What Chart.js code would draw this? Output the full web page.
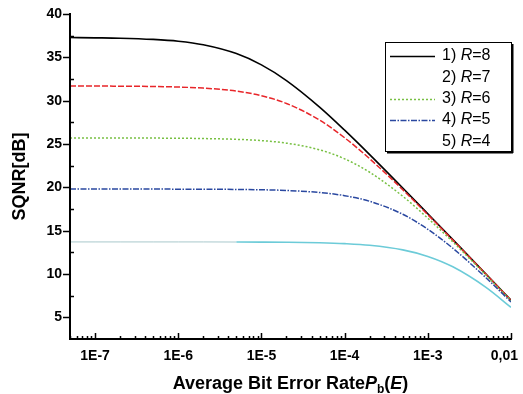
<!DOCTYPE html>
<html lang="en">
<head>
<meta charset="UTF-8">
<title>SQNR vs Average Bit Error Rate</title>
<script src="https://cdn.jsdelivr.net/npm/chart.js@4.4.0/dist/chart.umd.min.js"></script>
<style>
  html, body { margin: 0; padding: 0; background: #fff; }
</style>
</head>
<body>
<canvas id="myChart" width="523" height="394"></canvas>
<script>
    // average bit error rate (x) and SQNR in dB
    const ber    = [5e-8, 1e-7, 2e-7, 5e-7, 1e-6, 2e-6, 5e-6, 1e-5, 2e-5, 5e-5, 1e-4, 2e-4, 5e-4, 1e-3, 2e-3, 5e-3, 1e-2];
    const sqnrR8 = [37.28, 37.25, 37.21, 37.07, 36.86, 36.45, 35.43, 34.13, 32.32, 29.26, 26.60, 23.78, 19.92, 16.95, 13.96, 9.99, 6.99];
    const sqnrR7 = [31.69, 31.69, 31.67, 31.64, 31.57, 31.45, 31.10, 30.57, 29.68, 27.76, 25.72, 23.30, 19.72, 16.84, 13.91, 9.97, 6.97];
    const sqnrR6 = [25.70, 25.70, 25.69, 25.68, 25.67, 25.63, 25.54, 25.39, 25.10, 24.33, 23.29, 21.74, 18.97, 16.44, 13.70, 9.88, 6.93];
    const sqnrR5 = [19.80, 19.80, 19.80, 19.80, 19.79, 19.78, 19.76, 19.72, 19.64, 19.40, 19.04, 18.39, 16.89, 15.16, 12.97, 9.57, 6.77];
    const sqnrR4 = [13.70, 13.70, 13.70, 13.70, 13.70, 13.70, 13.69, 13.68, 13.66, 13.60, 13.50, 13.31, 12.78, 12.03, 10.83, 8.46, 6.15];

    const legendNums  = ['1)', '2)', '3)', '4)', '5)'];
    const legendRates = ['8', '7', '6', '5', '4'];
    const xTickValues = [1e-7, 1e-6, 1e-5, 1e-4, 1e-3, 1e-2];
    const xTickLabels = ['1E-7', '1E-6', '1E-5', '1E-4', '1E-3', '0,01'];
    const yTickValues = [5, 10, 15, 20, 25, 30, 35, 40];

    const FONT = '"Liberation Sans", Arial, sans-serif';

    function pts(ys) {
        return ber.map((x, i) => ({ x: x, y: ys[i] }));
    }

    const styles = [
        { color: '#000000', width: 1.6, dash: [] ,           legend: true },
        { color: '#e8262a', width: 1.5, dash: [6, 2],        legend: false },
        { color: '#78c043', width: 1.5, dash: [2, 2],        legend: true },
        { color: '#2a48a0', width: 1.5, dash: [6, 1.5, 1.5, 1.5], legend: true },
        { color: '#6ccbd8', width: 1.5, dash: [],            legend: false }
    ];

    const frame = {
        id: 'frame',
        afterDraw: (chart) => {
            const ctx = chart.ctx;
            const xs = chart.scales.x, ys = chart.scales.y;
            const left = chart.chartArea.left, bottom = chart.chartArea.bottom;
            const top = ys.getPixelForValue(40), right = chart.chartArea.right;
            ctx.save();
            ctx.strokeStyle = '#000';
            ctx.lineWidth = 2;
            ctx.beginPath();
            ctx.moveTo(left, top - 1);
            ctx.lineTo(left, bottom);
            ctx.lineTo(right + 1, bottom);
            ctx.stroke();

            // y ticks: major outward, minor inward
            ctx.lineWidth = 1.5;
            ctx.beginPath();
            yTickValues.forEach(v => {
                const p = Math.round(ys.getPixelForValue(v)) + 0.5;
                ctx.moveTo(left - 7, p); ctx.lineTo(left, p);
                if (v < 40) {
                    const q = Math.round(ys.getPixelForValue(v + 2.5)) + 0.5;
                    ctx.moveTo(left, q); ctx.lineTo(left + 4, q);
                }
            });
            // x ticks: all inward
            for (let e = -8; e <= -2; e++) {
                for (let m = 1; m <= 9; m++) {
                    const v = m * Math.pow(10, e);
                    if (v < 5e-8 * 0.999 || v > 1e-2 * 1.001) continue;
                    const p = Math.round(xs.getPixelForValue(v)) + 0.5;
                    ctx.moveTo(p, bottom);
                    ctx.lineTo(p, bottom - (m === 1 ? 6 : 3));
                }
            }
            ctx.stroke();

            // tick labels
            ctx.fillStyle = '#000';
            ctx.font = 'bold 14px ' + FONT;
            ctx.textAlign = 'right';
            ctx.textBaseline = 'middle';
            yTickValues.forEach(v => ctx.fillText(String(v), left - 8, ys.getPixelForValue(v)));
            ctx.textAlign = 'center';
            ctx.textBaseline = 'top';
            xTickValues.forEach((v, i) => {
                const w = ctx.measureText(xTickLabels[i]).width;
                const cx = Math.min(xs.getPixelForValue(v), 518 - w / 2);
                ctx.fillText(xTickLabels[i], cx, bottom + 10);
            });

            // axis titles
            ctx.textBaseline = 'alphabetic';
            const parts = [
                { t: 'Average Bit Error Rate', f: 'bold 18px ' + FONT, dy: 0 },
                { t: 'P', f: 'italic bold 18px ' + FONT, dy: 0 },
                { t: 'b', f: 'bold 12px ' + FONT, dy: 4 },
                { t: '(', f: 'bold 18px ' + FONT, dy: 0 },
                { t: 'E', f: 'italic bold 18px ' + FONT, dy: 0 },
                { t: ')', f: 'bold 18px ' + FONT, dy: 0 }
            ];
            let total = 0;
            parts.forEach(pt => { ctx.font = pt.f; pt.w = ctx.measureText(pt.t).width; total += pt.w; });
            let x = (left + right) / 2 - total / 2;
            const base = 389;
            ctx.textAlign = 'left';
            parts.forEach(pt => { ctx.font = pt.f; ctx.fillText(pt.t, x, base + pt.dy); x += pt.w; });

            ctx.save();
            ctx.translate(25, (top + bottom) / 2);
            ctx.rotate(-Math.PI / 2);
            ctx.font = 'bold 18px ' + FONT;
            ctx.textAlign = 'center';
            ctx.fillText('SQNR[dB]', 0, 0);
            ctx.restore();

            // legend box
            const bx = 385, by = 42, bw = 126, bh = 109;
            ctx.fillStyle = '#000';
            ctx.fillRect(bx + 2, by + bh, bw, 2.5);
            ctx.fillRect(bx + bw, by + 2, 2.5, bh);
            ctx.fillStyle = '#fff';
            ctx.fillRect(bx, by, bw, bh);
            ctx.strokeStyle = '#000';
            ctx.lineWidth = 1;
            ctx.strokeRect(bx + 0.5, by + 0.5, bw, bh);
            legendNums.forEach((n, i) => {
                const ry = by + 14 + i * 21.3;
                const st = styles[i];
                if (st.legend) {
                    ctx.strokeStyle = st.color;
                    ctx.lineWidth = st.width;
                    ctx.setLineDash(st.dash);
                    ctx.beginPath();
                    ctx.moveTo(bx + 5, Math.round(ry) + 0.5);
                    ctx.lineTo(bx + 50, Math.round(ry) + 0.5);
                    ctx.stroke();
                    ctx.setLineDash([]);
                }
                ctx.fillStyle = '#000';
                ctx.textBaseline = 'middle';
                let tx = bx + 57;
                ctx.font = '16px ' + FONT;
                ctx.fillText(n + ' ', tx, ry);
                tx += ctx.measureText(n + ' ').width;
                ctx.font = 'italic 16px ' + FONT;
                ctx.fillText('R', tx, ry);
                tx += ctx.measureText('R').width;
                ctx.font = '16px ' + FONT;
                ctx.fillText('=' + legendRates[i], tx, ry);
            });
            ctx.restore();
        }
    };

    const series = [sqnrR8, sqnrR7, sqnrR6, sqnrR5, sqnrR4];
    const datasets = series.map((s, i) => ({
        label: legendNums[i] + ' R=' + legendRates[i],
        data: pts(s),
        borderColor: styles[i].color,
        borderWidth: styles[i].width,
        borderDash: styles[i].dash,
        pointRadius: 0,
        fill: false,
        cubicInterpolationMode: 'monotone'
    }));
    // R=4 is drawn thin and pale up to about 5E-6
    datasets[4].segment = {
        borderColor: c => c.p1.parsed.x <= 5e-6 ? '#a8c8cc' : '#6ccbd8',
        borderWidth: c => c.p1.parsed.x <= 5e-6 ? 1 : 1.6
    };

    Chart.register(frame);
    const myChart = new Chart(document.getElementById('myChart'), {
        type: 'line',
        data: { datasets: datasets.slice().reverse() },
        options: {
            responsive: false,
            animation: false,
            layout: { padding: { left: 0, top: 14, right: 12, bottom: 0 } },
            plugins: { legend: { display: false }, tooltip: { enabled: false } },
            scales: {
                x: {
                    type: 'logarithmic',
                    min: 5e-8,
                    max: 1e-2,
                    grid: { display: false, drawTicks: false },
                    border: { display: false },
                    ticks: { display: false },
                    afterFit: s => { s.height = 55; }
                },
                y: {
                    min: 2.5,
                    max: 40,
                    grid: { display: false, drawTicks: false },
                    border: { display: false },
                    ticks: { display: false },
                    afterFit: s => { s.width = 70; }
                }
            }
        }
    });
</script>
</body>
</html>
